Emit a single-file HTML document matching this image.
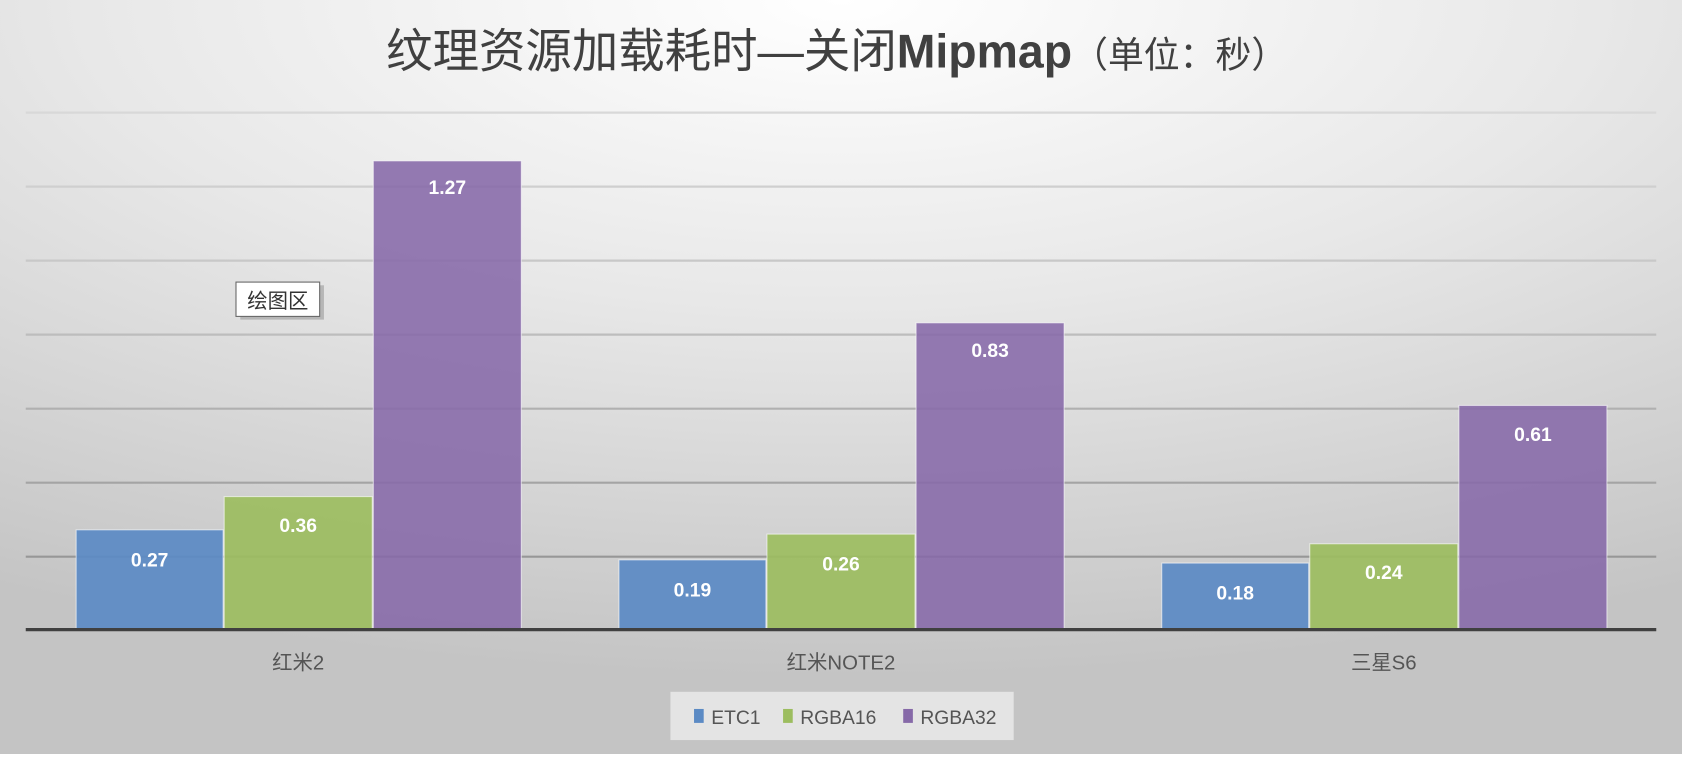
<!DOCTYPE html>
<html><head><meta charset="utf-8"><style>
html,body{margin:0;padding:0;}
body{width:1682px;height:754px;overflow:hidden;}
svg text{font-family:"Liberation Sans","Noto Sans CJK SC",sans-serif;}
</style></head><body>
<svg width="1682" height="754" viewBox="0 0 1568 703" preserveAspectRatio="none" xmlns="http://www.w3.org/2000/svg">
<defs>
<radialGradient id="bg" cx="0.5" cy="0" r="1.0" gradientTransform="translate(0.5 0) scale(1 0.9) translate(-0.5 0)">
<stop offset="0" stop-color="#ffffff"/>
<stop offset="0.45" stop-color="#e8e8e8"/>
<stop offset="1" stop-color="#c4c4c4"/>
</radialGradient>
</defs>
<rect width="1568" height="703" fill="url(#bg)"/>
<text x="780" y="63" text-anchor="middle" font-size="44" fill="#404040" textLength="840" lengthAdjust="spacingAndGlyphs">纹理资源加载耗时—关闭<tspan font-weight="bold">Mipmap</tspan><tspan font-size="34">（单位：秒）</tspan></text>
<g stroke-width="2">
<line x1="24" x2="1544" y1="105" y2="105" stroke="#d8d8d8"/>
<line x1="24" x2="1544" y1="174" y2="174" stroke="#cfcfcf"/>
<line x1="24" x2="1544" y1="243" y2="243" stroke="#c8c8c8"/>
<line x1="24" x2="1544" y1="312" y2="312" stroke="#bdbdbd"/>
<line x1="24" x2="1544" y1="381" y2="381" stroke="#b0b0b0"/>
<line x1="24" x2="1544" y1="450" y2="450" stroke="#a4a4a4"/>
<line x1="24" x2="1544" y1="519" y2="519" stroke="#979797"/>
</g>
<g stroke="#ffffff" stroke-opacity="0.6" stroke-width="1">
<rect x="71" y="494" width="137" height="93" fill="#5b8ac4" fill-opacity="0.92"/>
<rect x="209" y="463" width="138" height="124" fill="#9cbd5f" fill-opacity="0.92"/>
<rect x="348" y="150" width="138" height="437" fill="#8669a8" fill-opacity="0.88"/>
<rect x="577" y="522" width="137" height="65" fill="#5b8ac4" fill-opacity="0.92"/>
<rect x="715" y="498" width="138" height="89" fill="#9cbd5f" fill-opacity="0.92"/>
<rect x="854" y="301" width="138" height="286" fill="#8669a8" fill-opacity="0.88"/>
<rect x="1083" y="525" width="137" height="62" fill="#5b8ac4" fill-opacity="0.92"/>
<rect x="1221" y="507" width="138" height="80" fill="#9cbd5f" fill-opacity="0.92"/>
<rect x="1360" y="378" width="138" height="209" fill="#8669a8" fill-opacity="0.88"/>
</g>
<line x1="24" x2="1544" y1="587" y2="587" stroke="#404040" stroke-width="3"/>
<g fill="#ffffff" font-weight="bold" font-size="18" text-anchor="middle">
<text x="139.5" y="528">0.27</text>
<text x="278" y="496">0.36</text>
<text x="417" y="181">1.27</text>
<text x="645.5" y="556">0.19</text>
<text x="784" y="532">0.26</text>
<text x="923" y="333">0.83</text>
<text x="1151.5" y="559">0.18</text>
<text x="1290" y="540">0.24</text>
<text x="1429" y="411">0.61</text>
</g>
<g fill="#555" font-size="19" text-anchor="middle">
<text x="278" y="624">红米2</text>
<text x="784" y="624">红米NOTE2</text>
<text x="1290" y="624">三星S6</text>
</g>
<rect x="224" y="266" width="78" height="32" fill="#999" opacity="0.6"/>
<rect x="220" y="263" width="78" height="32" fill="#fff" stroke="#666" stroke-width="1"/>
<text x="259" y="287" text-anchor="middle" font-size="19" fill="#333">绘图区</text>
<rect x="625" y="645" width="320" height="45" fill="#e4e4e4"/>
<rect x="647" y="661" width="9" height="13" fill="#5b8ac4"/>
<text x="663" y="675" font-size="18" fill="#555">ETC1</text>
<rect x="730" y="661" width="9" height="13" fill="#9cbd5f"/>
<text x="746" y="675" font-size="18" fill="#555">RGBA16</text>
<rect x="842" y="661" width="9" height="13" fill="#8669a8"/>
<text x="858" y="675" font-size="18" fill="#555">RGBA32</text>
</svg>
</body></html>
